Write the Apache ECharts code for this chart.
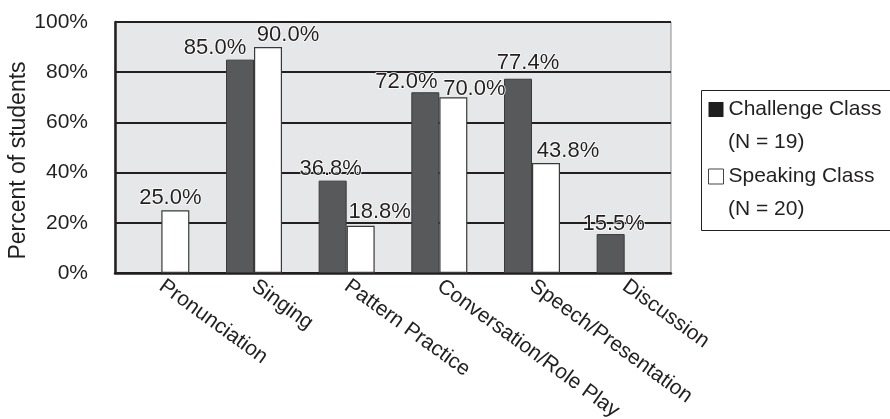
<!DOCTYPE html>
<html>
<head>
<meta charset="utf-8">
<script src="https://cdn.jsdelivr.net/npm/echarts@6/dist/echarts.min.js"></script>
<style>
  html, body { margin: 0; padding: 0; background: #ffffff; }
  #chart { width: 890px; height: 419px; }
</style>
</head>
<body>
<div id="chart"></div>
<script>
// Activities used in class
const categories = ['Pronunciation', 'Singing', 'Pattern Practice', 'Conversation/Role Play', 'Speech/Presentation', 'Discussion'];

// Percent of students per class (null = not reported)
const challengeValues = [null, 85.0, 36.8, 72.0, 77.4, 15.5];
const speakingValues  = [25.0, 90.0, 18.8, 70.0, 43.8, null];

// Class names and sizes
const seriesNames = ['Challenge Class', 'Speaking Class'];
const classSizes = [19, 20];

// Y-axis ticks (percent)
const yTicks = [0, 20, 40, 60, 80, 100];

// Small nudges for the value labels so neighbouring labels do not collide
const challengeLabelShift = [[0, 0], [-25, 0], [-2, 0], [-19, 2], [10, -4], [3, 2]];
const speakingLabelShift  = [[-5, 0], [20, 0], [19, -2], [21, 4], [22, 0], [0, 0]];

const FONT = "'Liberation Sans', Arial, Helvetica, sans-serif";
const INK = '#231f20';

function withLabels(values, shifts) {
  return values.map((v, i) => ({
    value: v,
    label: { offset: shifts[i] }
  }));
}

const chart = echarts.init(document.getElementById('chart'), null, { renderer: 'canvas' });

const valueLabel = {
  show: true,
  position: 'top',
  distance: 1,
  fontFamily: FONT,
  fontSize: 22,
  color: INK,
  textBorderColor: '#ffffff',
  textBorderWidth: 1.5,
  formatter: p => (p.value == null ? '' : p.value.toFixed(1) + '%')
};

// Legend geometry: box, first text line, line spacing, text start
const legendLeft = 699;
const legendTop = 88;
const legendPadTop = 11;
const legendLine = 33.5;
const legendTextX = legendLeft + 9 + 15 + 5;

chart.setOption({
  animation: false,
  backgroundColor: '#ffffff',
  textStyle: { fontFamily: FONT },
  grid: {
    left: 115, right: 219, top: 22, bottom: 146,
    outerBoundsMode: 'none',
    containLabel: false,
    show: true,
    backgroundColor: '#e6e7e8',
    borderColor: '#8c8c8c',
    borderWidth: 1
  },
  legend: {
    orient: 'vertical',
    left: legendLeft,
    top: legendTop,
    padding: [legendPadTop, 0, 0, 9],
    itemWidth: 15,
    itemHeight: 15,
    itemGap: 2 * legendLine - 21,
    icon: 'rect',
    selectedMode: false,
    data: [
      { name: seriesNames[0], itemStyle: { color: '#1e1e1e', borderWidth: 0 } },
      { name: seriesNames[1], itemStyle: { color: '#ffffff', borderColor: '#444', borderWidth: 1 } }
    ],
    textStyle: { fontFamily: FONT, fontSize: 21, color: INK }
  },
  graphic: [
    // Legend frame, running off the right edge
    {
      type: 'rect',
      left: legendLeft,
      top: legendTop,
      shape: { width: 230, height: 140 },
      style: { fill: 'none', stroke: INK, lineWidth: 1 },
      z: 5
    }
  ].concat(
    // Second line of each legend entry: class size
    classSizes.map((n, i) => ({
      type: 'text',
      left: legendTextX,
      top: legendTop + legendPadTop + legendLine * (2 * i + 1) - 1,
      style: { text: '(N = ' + n + ')', font: '21px ' + FONT, fill: INK }
    }))
  ),
  xAxis: {
    type: 'category',
    data: categories,
    axisLine: { lineStyle: { color: INK, width: 2.5 } },
    axisTick: { show: false },
    axisLabel: {
      rotate: -36,
      margin: 11,
      fontFamily: FONT,
      fontSize: 21,
      color: INK,
      interval: 0
    },
    splitLine: { show: false }
  },
  yAxis: {
    type: 'value',
    min: yTicks[0],
    max: yTicks[yTicks.length - 1],
    interval: yTicks[1] - yTicks[0],
    name: 'Percent of students',
    nameLocation: 'middle',
    nameGap: 85,
    nameMoveOverlap: false,
    nameTextStyle: { fontFamily: FONT, fontSize: 23, color: INK, padding: [0, 26, 0, 0] },
    axisLine: { show: true, lineStyle: { color: INK, width: 2.5 } },
    axisTick: { show: false },
    axisLabel: {
      margin: 27,
      fontFamily: FONT,
      fontSize: 21,
      color: INK,
      formatter: '{value}%'
    },
    splitLine: { show: true, lineStyle: { color: INK, width: 2.2 } }
  },
  series: [
    {
      name: seriesNames[0],
      type: 'bar',
      data: withLabels(challengeValues, challengeLabelShift),
      barWidth: 28,
      barGap: '0%',
      itemStyle: { color: '#58595b', borderColor: '#3a3a3a', borderWidth: 1 },
      label: valueLabel
    },
    {
      name: seriesNames[1],
      type: 'bar',
      data: withLabels(speakingValues, speakingLabelShift),
      barWidth: 28,
      barGap: '0%',
      itemStyle: { color: '#ffffff', borderColor: '#3a3a3a', borderWidth: 1.2 },
      label: valueLabel
    }
  ]
});
</script>
</body>
</html>
